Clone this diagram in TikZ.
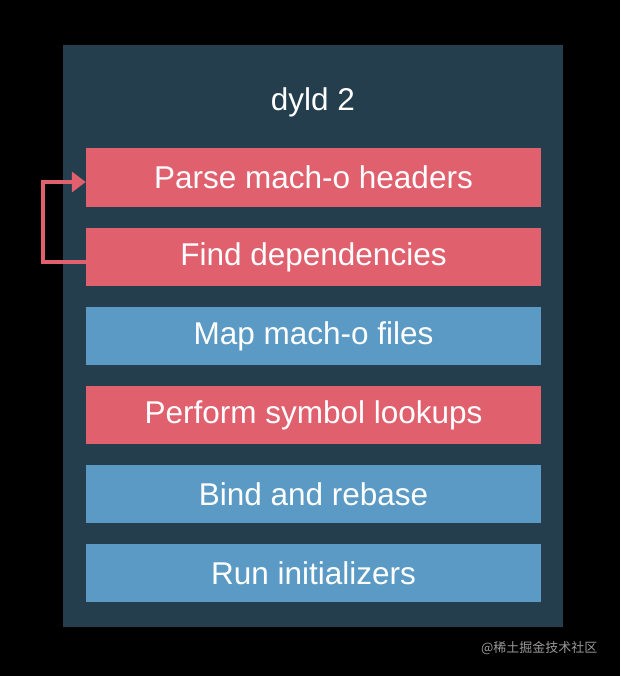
\documentclass[tikz,border=0pt]{standalone}
\usepackage{fontspec}
\setmainfont{Liberation Sans}
\newfontfamily\cjk{Noto Sans CJK SC}
\usetikzlibrary{positioning,calc,arrows.meta}
\definecolor{panel}{HTML}{243E4E}
\definecolor{stepred}{HTML}{E0606E}
\definecolor{stepblue}{HTML}{5A9AC4}
\tikzset{
  stage/.style={minimum width=455pt,minimum height=58pt,inner sep=0pt,
    text=white,font=\fontsize{31.5}{36}\selectfont},
  redstage/.style={stage,fill=stepred},
  bluestage/.style={stage,fill=stepblue}
}
\begin{document}
\begin{tikzpicture}[x=1pt,y=-1pt]
\fill[black] (0,0) rectangle (620,676);
\useasboundingbox (0,0) rectangle (620,676);
% Panel behind the stages
\fill[panel] (63,45) rectangle (563,627);
\node[text=white,font=\fontsize{31.5}{36}\selectfont] (title) at (313,102) {dyld 2};
% Stages, top to bottom
\node[redstage] (parse) at (313.5,177.5) {Parse mach-o headers};
\node[redstage] (find) at (313.5,257) {Find dependencies};
\node[bluestage] (map) at (313.5,336) {Map mach-o files};
\node[redstage] (lookup) at (313.5,415) {Perform symbol lookups};
\node[bluestage] (bind) at (313.5,494) {Bind and rebase};
\node[bluestage] (init) at (313.5,573) {Run initializers};
% Loop back from dependencies to headers
\draw[stepred,line width=4pt,-{Triangle[length=14pt,width=20pt]}]
  (find.west |- 0,262) -- (43,262) -- (43,182) -- (parse.west |- 0,182);
\node[text=gray!80,font=\cjk\fontsize{13}{15}\selectfont,anchor=east] (mark) at (601,648) {@稀土掘金技术社区};
\end{tikzpicture}
\end{document}
